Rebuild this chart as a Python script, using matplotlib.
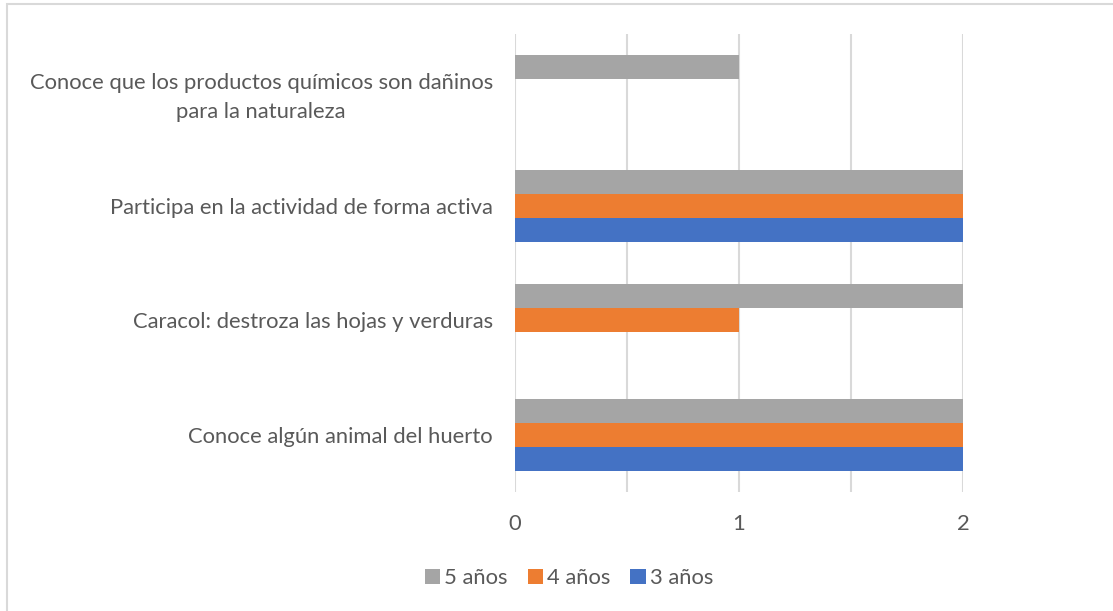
import matplotlib.pyplot as plt
import numpy as np
from matplotlib.patches import Rectangle

# Datos
categorias = ["Conoce algún animal del huerto",
              "Caracol: destroza las hojas y verduras",
              "Participa en la actividad de forma activa",
              "Conoce que los productos químicos son dañinos\npara la naturaleza"]
tres_anos = [2, 0, 2, 0]
cuatro_anos = [2, 1, 2, 0]
cinco_anos = [2, 2, 2, 1]

plt.rcParams['font.family'] = ['Lato', 'DejaVu Sans']
gris_texto = "#595959"

fig = plt.figure(figsize=(11.13, 6.11), dpi=100)
W, H = 1113, 611

# Borde del gráfico
fig.patches.append(Rectangle((7 / W, -0.1), 1.2, 1 - 4 / H + 0.1, transform=fig.transFigure,
                             fill=False, edgecolor="#D9D9D9", linewidth=1.5))

ax = fig.add_axes([515 / W, 1 - 492 / H, 448 / W, (492 - 34) / H])

y = np.arange(len(categorias))
alto = 0.21
ax.barh(y - alto, tres_anos, height=alto, color="#4472C4", label="3 años")
ax.barh(y, cuatro_anos, height=alto, color="#ED7D31", label="4 años")
ax.barh(y + alto, cinco_anos, height=alto, color="#A5A5A5", label="5 años")

ax.set_xlim(0, 2)
ax.set_ylim(-0.5, len(categorias) - 0.5)
ax.set_xticks([0, 0.5, 1, 1.5, 2])
ax.set_xticklabels(["0", "", "1", "", "2"])
ax.set_yticks(y)
ax.set_yticklabels(categorias, ha="right", multialignment="center", linespacing=1.55)
ax.tick_params(axis="y", length=0, pad=16, labelsize=15.8, labelcolor=gris_texto)
ax.tick_params(axis="x", length=0, pad=16, labelsize=15.8, labelcolor=gris_texto)
ax.grid(axis="x", color="#D9D9D9", linewidth=1.5)
ax.set_axisbelow(True)
for s in ax.spines.values():
    s.set_visible(False)

handles, labels = ax.get_legend_handles_labels()
fig.legend(handles[::-1], labels[::-1], loc="center", bbox_to_anchor=(569 / W, 1 - 578 / H),
           ncol=3, frameon=False, fontsize=15.8, labelcolor=gris_texto,
           handlelength=0.7, handleheight=0.7, handletextpad=0.2, columnspacing=0.9)

fig.savefig("out.png", dpi=100)
